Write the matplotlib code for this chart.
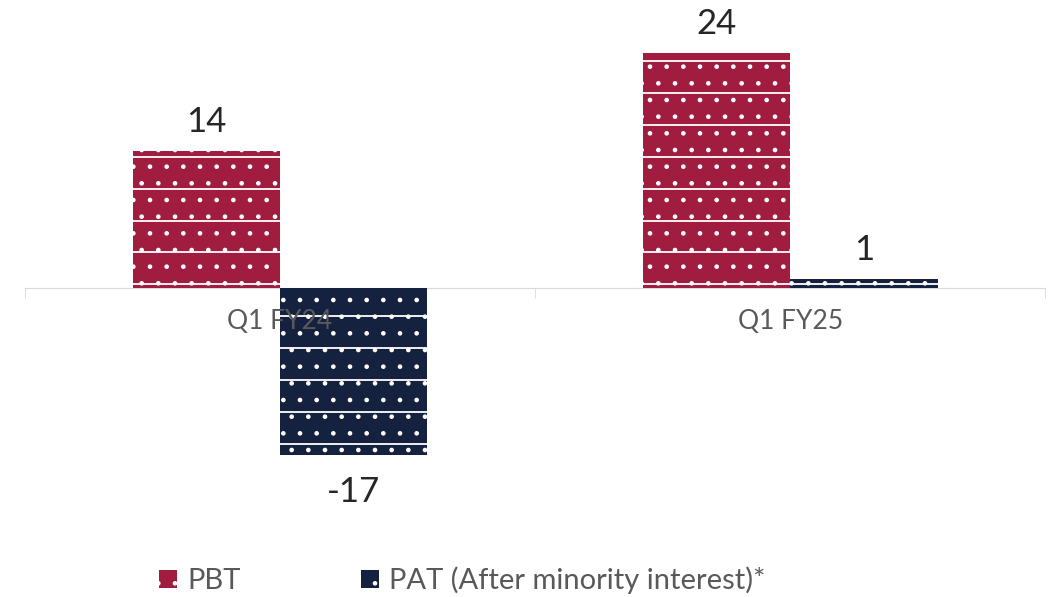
#!/usr/bin/env python3

import numpy as np
import matplotlib
matplotlib.use('Agg')
from matplotlib import pyplot as plt
from matplotlib.patches import Patch

categories = ['Q1 FY24', 'Q1 FY25']
pbt = [14, 24]
pat = [-17, 1]
series_names = ['PBT', 'PAT (After minority interest)*']

RED = '#A11D40'
NAVY = '#14213F'

plt.rcParams['font.family'] = ['Lato', 'DejaVu Sans']
plt.rcParams['hatch.linewidth'] = 0.9


def stripe(ax, bars, step=3.25, start=0.4):
	# white horizontal lines inside each bar, like the excel pattern fill
	for b in bars:
		for yy in np.arange(start - step * 10, start + step * 10, step):
			ln = ax.axhline(yy, color='white', lw=1.3, zorder=2.2)
			ln.set_clip_path(b)


def main():
	fig = plt.figure(figsize=(10.55, 5.97), dpi=100)
	ax = fig.add_axes([0.0237, 0.1055, 0.967, 0.823])

	x = np.arange(len(categories))
	w = 0.289
	b1 = ax.bar(x - w / 2, pbt, w, color=RED, edgecolor='white', lw=0,
		hatch='.', zorder=2)
	b2 = ax.bar(x + w / 2, pat, w, color=NAVY, edgecolor='white', lw=0,
		hatch='.', zorder=2)
	stripe(ax, b1)
	stripe(ax, b2)

	for xi, v in zip(x - w / 2, pbt):
		ax.annotate(str(v), (xi, v), xytext=(0, 9), textcoords='offset points',
			ha='center', va='bottom', fontsize=25, color='#262626')
	for xi, v in zip(x + w / 2, pat):
		off = 9 if v >= 0 else -15
		ax.annotate(str(v), (xi, v), xytext=(0, off), textcoords='offset points',
			ha='center', va='bottom' if v >= 0 else 'top', fontsize=25,
			color='#262626')

	ax.set_xlim(-0.5, 1.5)
	ax.set_ylim(-25, 25)
	for s in ['top', 'right', 'left']:
		ax.spines[s].set_visible(False)
	ax.spines['bottom'].set_position(('data', 0))
	ax.spines['bottom'].set_color('#D9D9D9')
	ax.spines['bottom'].set_zorder(1)
	ax.xaxis.set_zorder(3)
	ax.set_yticks([])
	ax.set_xticks(x, categories)
	ax.set_xticks([-0.5, 0.5, 1.5], minor=True)
	ax.tick_params(axis='x', which='major', length=0, pad=15, labelsize=19,
		labelcolor='#595959')
	ax.tick_params(axis='x', which='minor', length=7, color='#D9D9D9')

	handles = [Patch(facecolor=RED, edgecolor='white', lw=0, hatch='.'),
		Patch(facecolor=NAVY, edgecolor='white', lw=0, hatch='.')]
	fig.legend(handles, series_names, loc='center left',
		bbox_to_anchor=(0.126, 0.028), ncol=2, frameon=False, fontsize=21,
		labelcolor='#595959', handlelength=0.6, handleheight=0.6,
		handletextpad=0.35, columnspacing=4.15)

	fig.savefig('out.png', dpi=100)


if __name__ == "__main__":
	main()
